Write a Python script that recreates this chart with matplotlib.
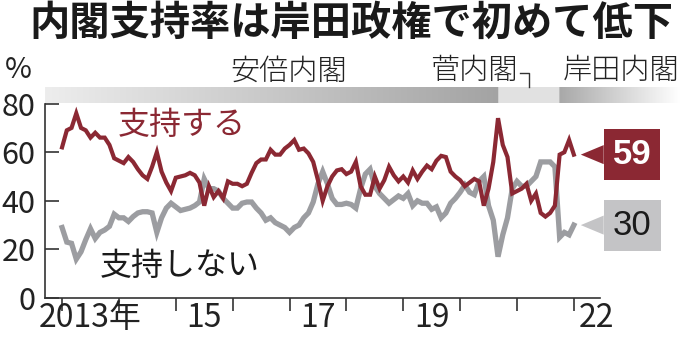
import numpy as np
import matplotlib
matplotlib.use('Agg')
import matplotlib.pyplot as plt

# monthly cabinet approval survey, Jan 2013 .. Jan 2022 (%)
START_YEAR = 2013
support = [62, 69, 70, 76, 70, 69, 66, 68, 66, 66,
           63, 57.5, 56.5, 55.5, 58, 56, 53, 50.5, 49, 54,
           60, 52, 47.5, 44, 49.5, 50, 50.5, 51.5, 50.5, 47.5,
           38, 46, 41.5, 44, 41, 48, 47, 47, 46, 47,
           51.5, 55.5, 57, 57, 61, 59, 59, 61.5, 63, 65,
           61, 61.5, 59.5, 56, 48.5, 40, 46, 50, 52.5, 53,
           51, 52, 56, 46, 42.5, 42.5, 50, 45, 48.5, 54,
           50.5, 48, 50, 47.5, 52.5, 49, 52, 54.5, 53, 56.5,
           58.5, 58, 52, 50, 48.5, 46, 47.5, 49, 48, 38,
           45, 56, 74, 63, 58, 43, 44, 45, 47, 40,
           43, 35, 33.5, 35, 38, 59, 60, 65, 59]
nonsupport = [29, 23, 22.5, 16, 19, 24, 28.5, 24.5, 27, 28,
              29.5, 34.5, 33, 33, 31.5, 33.5, 35, 35.5, 35.5, 35,
              27, 33, 37, 39, 37.5, 36, 36.5, 37, 38, 39.5,
              49, 45, 45, 44, 41, 39, 37, 37, 39, 39.5,
              39.5, 37, 35, 32, 33, 31, 30, 29, 27, 29,
              30, 33, 35, 39.5, 47, 52, 47, 41, 38.5, 38.5,
              39, 38.5, 37, 45, 51, 53, 46, 43, 41, 39,
              40.5, 42, 41, 43, 38, 40, 39, 39, 36.5, 37.5,
              33, 35, 39, 41, 43.5, 46.5, 43.5, 42.5, 48, 50,
              38, 32, 17, 26, 33, 45, 48, 46, 46, 48,
              50, 56, 56, 56, 54, 25, 27, 26, 30]

cabinets = ['安倍内閣', '菅内閣', '岸田内閣']
cabinet_start = [2012.7, 2020 + 8 / 12, 2021 + 9 / 12]
year_ticks = list(range(2013, 2023))
year_labels = ['2013年', '15', '17', '19', '22']
year_label_pos = [2013.5, 2015.5, 2017.5, 2019.5, 2022.4]
y_ticks = [0, 20, 40, 60, 80]

RED = '#8b2833'
GRAY = '#9c9da1'
CJK = 'Noto Sans CJK JP'
NARROW = ['Liberation Sans Narrow', CJK]

x = START_YEAR + np.arange(len(support)) / 12
W, H = 680, 351
fig = plt.figure(figsize=(W / 100, H / 100), dpi=100)

# main axes: 45..600 px wide, value 0 at y=298, 80 at y=103.6
ax = fig.add_axes([45 / W, (H - 298) / H, 555 / W, 194.4 / H])
xmin, xmax = 2012.7, 2022.46
ax.set_xlim(xmin, xmax)
ax.set_ylim(0, 80)

ax.plot(x, nonsupport, color=GRAY, lw=3.8, solid_joinstyle='miter', clip_on=False)
ax.plot(x, support, color=RED, lw=3.0, solid_joinstyle='miter', clip_on=False)

for s in ('top', 'right'):
    ax.spines[s].set_visible(False)
for s in ('left', 'bottom'):
    ax.spines[s].set_linewidth(1.2)
    ax.spines[s].set_color('#333333')

ax.set_xticks(year_ticks)
ax.set_xticklabels([])
ax.tick_params(axis='x', which='major', direction='out', length=9.5, width=1.2, color='#333333')
ax.set_xticks(year_label_pos, minor=True)
ax.set_xticklabels(year_labels, minor=True, family=NARROW, fontsize=23, color='#222222')
ax.tick_params(axis='x', which='minor', length=0, pad=3)

ax.set_yticks(y_ticks)
ax.set_yticklabels([str(v) for v in y_ticks], family=NARROW, fontsize=22, color='#222222')
ax.tick_params(axis='y', direction='in', length=10, width=1.2, color='#333333', pad=7)

# series labels
ax.text(2015.1, 71, '支持する', color=RED, fontsize=23, family=CJK, ha='center', va='center')
ax.text(2015.07, 13.2, '支持しない', color='#1a1a1a', fontsize=23, family=CJK, ha='center', va='center')

# end-value boxes with pointers
for vals, fc, tc, wt in ((support, RED, 'white', 'bold'), (nonsupport, '#c4c4c6', '#1a1a1a', 'normal')):
    ax.annotate(f'{vals[-1]:.0f}', xy=(x[-1], vals[-1]), xytext=(28, 0),
                textcoords='offset points', ha='left', va='center',
                fontsize=25, family='Liberation Sans', weight=wt, color=tc,
                bbox=dict(boxstyle='square,pad=0.26', fc=fc, ec='none'),
                arrowprops=dict(arrowstyle='wedge,tail_width=0.55', fc=fc, ec='none',
                                shrinkA=0, shrinkB=5),
                annotation_clip=False)

# cabinet band above the plot, 45..680 px, y 87..103
band = fig.add_axes([45 / W, (H - 103) / H, 635 / W, 16 / H])
bx0, bx1 = xmin, xmin + (xmax - xmin) * 635 / 555
band.set_xlim(bx0, bx1)
band.set_ylim(0, 1)
band.axis('off')
cols = np.linspace(bx0, bx1, 800)
lev = np.empty_like(cols)
abe = cols < cabinet_start[1]
suga = (cols >= cabinet_start[1]) & (cols < cabinet_start[2])
kishida = cols >= cabinet_start[2]
lev[abe] = np.interp(cols[abe], [bx0, cabinet_start[1]], [0.93, 0.64])
lev[suga] = 0.885
lev[kishida] = np.interp(cols[kishida], [cabinet_start[2], bx1], [0.66, 1.0])
img = np.repeat(lev[None, :, None], 3, axis=2)
band.imshow(img, extent=[bx0, bx1, 0, 1], aspect='auto', interpolation='bilinear')

abe_mid = (bx0 + cabinet_start[1]) / 2
suga_mid = (cabinet_start[1] + cabinet_start[2]) / 2
band.text(abe_mid + 0.3, 2.0, cabinets[0], fontsize=21, family=CJK, weight='light',
          ha='center', va='center', color='#222222')
band.text(suga_mid - 0.2, 2.0, cabinets[1], fontsize=21, family=CJK, weight='light',
          ha='right', va='center', color='#222222')
band.text(cabinet_start[2] + 0.05, 2.0, cabinets[2], fontsize=21, family=CJK, weight='light',
          ha='left', va='center', color='#222222')
band.plot([suga_mid - 0.15, suga_mid, suga_mid], [1.85, 1.85, 1.0], color='#333333',
          lw=1.0, clip_on=False)

fig.text(18 / W, 1 - 70 / H, '%', fontsize=21, family=NARROW, ha='center', va='center',
         color='#222222')
fig.text(351 / W, 1 - 23 / H, '内閣支持率は岸田政権で初めて低下', fontsize=29,
         family=CJK, weight='bold', ha='center', va='center', color='#1a1a1a')

fig.savefig('out.png', dpi=100)
